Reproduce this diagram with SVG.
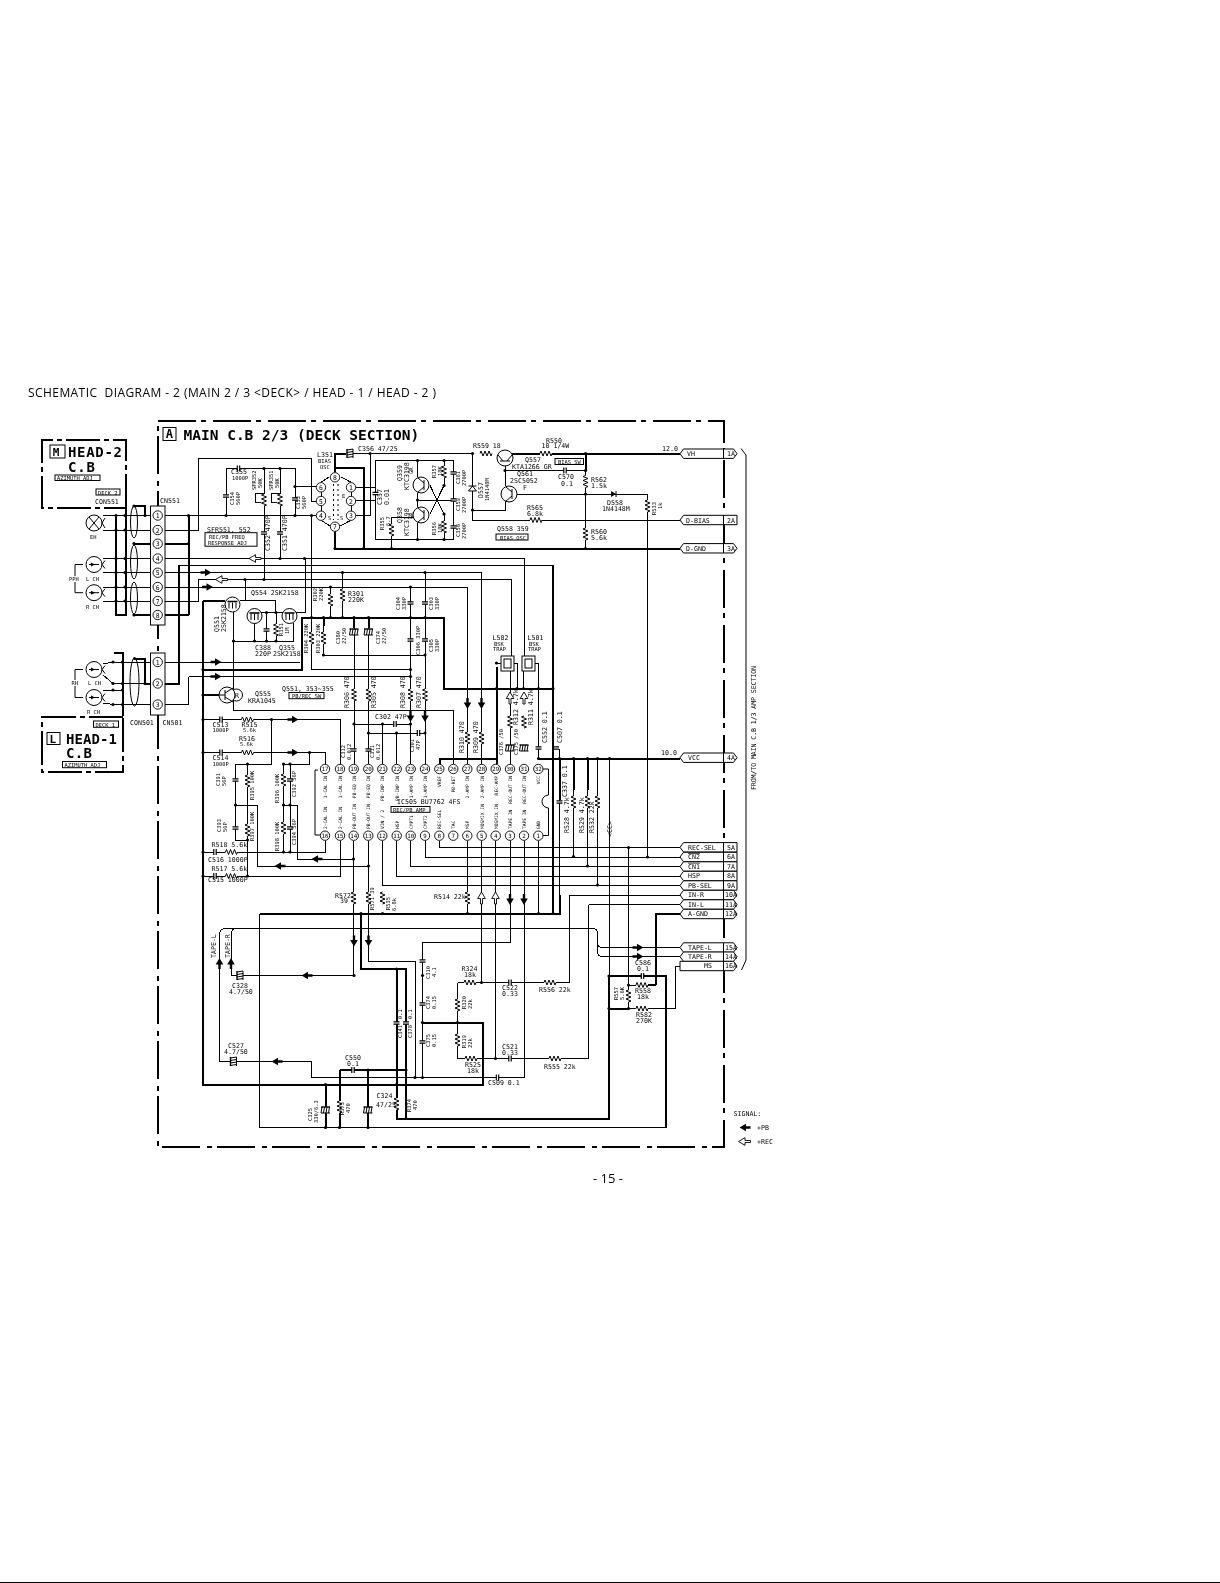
<svg xmlns="http://www.w3.org/2000/svg" width="1220" height="1583" viewBox="0 0 1220 1583">
<style>
text{font-family:"DejaVu Sans Mono","Liberation Mono",monospace;fill:#000}
.t{font-size:6.6px}
.s{font-size:5.4px}
.p{font-size:6.4px;text-anchor:middle}
.h{font-size:14px;font-weight:bold}
.w{fill:none;stroke:#000;stroke-width:1;shape-rendering:crispEdges}
.k{fill:none;stroke:#000;stroke-width:2;shape-rendering:crispEdges}
.f{fill:#fff;stroke:#000;stroke-width:1}
.b{fill:#000;stroke:none}
.l{fill:none;stroke:#000;stroke-width:1}
.o{fill:#fff;stroke:#000;stroke-width:.9}
</style>
<defs>
<g id="zh"><path d="M-6 0H6" stroke="#fff" stroke-width="3.5"/><path class="l" d="M-6 0l1-2.5 2 5 2-5 2 5 2-5 2 5 1-2.5"/></g>
<g id="zv"><path d="M0-6V6" stroke="#fff" stroke-width="3.5"/><path class="l" d="M0-6l-2.5 1 5 2-5 2 5 2-5 2 5 2-2.5 1"/></g>
<g id="ch"><path d="M-1.2 0H1.2" stroke="#fff" stroke-width="4"/><path d="M-1.2-3V3M1.2-3V3" stroke="#000" stroke-width="1.2"/></g>
<g id="cv"><path d="M0-1.2V1.2" stroke="#fff" stroke-width="4"/><path d="M-3-1.2H3M-3 1.2H3" stroke="#000" stroke-width="1.2"/></g>
<g id="pv"><path d="M0-3V3" stroke="#fff" stroke-width="4"/><path d="M-4.5-3H4.5" stroke="#000" stroke-width="1.4"/><path class="l" d="M-4.5 3H4.5M-3.5-3l-1 6M-1-3l-1 6M1.5-3l-1 6M4-3l-1 6"/></g>
<g id="ph"><path d="M-3 0H3" stroke="#fff" stroke-width="4"/><path d="M-3-4.5V4.5" stroke="#000" stroke-width="1.4"/><path class="l" d="M3-4.5V4.5M-3-3.5l6-1M-3-1l6-1M-3 1.5l6-1M-3 4l6-1"/></g>
<circle id="d" r="1.6" class="b"/>
<path id="ar" class="b" d="M-6-1.2H-1.5V-3.8L5 0-1.5 3.8V1.2H-6Z"/>
<path id="al" class="b" d="M6-1.2H1.5V-3.8L-5 0 1.5 3.8V1.2H6Z"/>
<path id="ad" class="b" d="M-1.2-6V-1.5H-3.8L0 5 3.8-1.5H1.2V-6Z"/>
<path id="au" class="b" d="M-1.2 6V1.5H-3.8L0-5 3.8 1.5H1.2V6Z"/>
<path id="ol" class="o" d="M-6 0L.5-3.8V-1H6V1H.5V3.8Z"/>
<path id="ou" class="o" d="M0-6L-3.8 .5H-1V6H1V.5H3.8Z"/>
<circle id="pc" r="4.7" class="o"/>
<g id="qr"><circle r="8" class="f"/><path class="l" d="M3-5V5M3-2L-3-7M3 2L-3 7"/></g>
<g id="qf"><circle r="7.5" class="f"/><path class="l" d="M-3.5-2V4M0-2V4M3.5-2V4"/><path d="M-5-3H5" stroke="#000" stroke-width="1.6"/></g>
<g id="hd"><circle r="8" class="f"/><path class="l" d="M-5 0H5"/><path class="b" d="M-3-2L1 0-3 2Z"/><path class="l" d="M8 0L11-4M8 0L11 4"/></g>
<path id="tr" class="f" d="M0 0L3.5-4.7H53.5L57 0 53.5 4.7H3.5ZM43.5-4.7V4.7"/>
<path id="tl" class="f" d="M0 0L3.5-4.7H57V4.7H3.5ZM43.5-4.7V4.7"/>
<path id="tm" class="f" d="M0-4.7H53.5L57 0 53.5 4.7H0ZM43.5-4.7V4.7"/>
</defs>
<rect width="1220" height="1583" fill="#fff"/>
<g style="opacity:.999">
<text id="title" x="28" y="397" xml:space="preserve" style="font-family:'Open Sans','Noto Sans',sans-serif;font-size:12px" textLength="408">SCHEMATIC  DIAGRAM - 2 (MAIN 2 / 3 &lt;DECK&gt; / HEAD - 1 / HEAD - 2 )</text>
<g id="frame-a">
<path d="M157.5 421H723.5V1146.5H157.5Z" fill="none" stroke="#000" stroke-width="2" stroke-dasharray="38 5 5 7" shape-rendering="crispEdges"/>
<rect x="163" y="427.5" width="13" height="13" class="f"/><text x="165.7" y="438" style="font-size:12px;font-weight:bold">A</text>
<text x="183.5" y="439.5" style="font-size:14.5px;font-weight:bold">MAIN C.B 2/3 (DECK SECTION)</text>
</g>
<g id="head-2">
<path class="k" stroke-dasharray="34 4 5 4" d="M126 508V440H42V508H126"/>
<rect x="50" y="445" width="15" height="13" class="f"/><text x="52.7" y="456" style="font-size:11px;font-weight:bold">M</text>
<text x="68" y="456.5" class="h" textLength="54">HEAD-2</text><text x="68" y="472" class="h" textLength="27">C.B</text>
<rect x="55" y="475" width="45" height="5.5" class="f"/><text x="57" y="480" class="s">AZIMUTH ADJ</text>
<rect x="96" y="489" width="24" height="6" class="f"/><text x="98" y="494.5" class="s">DECK 2</text>
<text x="95" y="504" class="t">CON551</text>
</g>
<g id="head-1">
<path class="k" stroke-dasharray="34 4 5 4" d="M122.5 717H42V771.5H122.5V717"/>
<rect x="93.5" y="721" width="25" height="6.3" class="f"/><text x="95.5" y="726.5" class="s">DECK 1</text>
<rect x="47" y="732.5" width="13" height="12" class="f"/><text x="49.5" y="743" style="font-size:11px;font-weight:bold">L</text>
<text x="66" y="743.5" class="h" textLength="51">HEAD-1</text><text x="66" y="758" class="h" textLength="26">C.B</text>
<rect x="62.5" y="761.5" width="44" height="6.2" class="f"/><text x="64.5" y="767" class="s">AZIMUTH ADJ</text>
<text x="130" y="725" class="t">CON501</text>
<text x="162.5" y="725" class="t">CN501</text>
<text x="160" y="503" class="t">CN551</text>
</g>
<g id="connectors">
<path class="w" d="M103 515.5H150.5M103 530H150.5M103 558.5H150.5M103 572.5H150.5M103 587H150.5M103 601H150.5
M103 664L113 662H150.5M103 675L113 683.5H150.5M103 690H122.5M103 703L113 704.5H150.5
M165 515.5H316M165 530H198V458.5H311.5V501H316M295 486.5H316
M165 558.5H524.5V656M178 565H553M165 572.5H481.5V764M165 587H467.5V764M165 601H198V579.5H511V656M510 668V764M165 662H300M188.5 704.5V676.5M165 704.5H188.5M188.5 676.5H410.5
M226 515.5V468.5H295V515.5M264 468.5V579.5M280 468.5V558.5M255 493H264M255 493V502.5H261M271.5 493H280M271.5 493V502.5H277
M311.5 515.5V617M305 558.5V612.5H261M245 579.5V600.5H240M245 600.5H275.5V612.5M276 612.5V641M266.5 612.5V641M233.5 641H293.5V623M254.5 623V641M233.5 611V710H453.5V764
M330.5 587V617.5M342.5 572.5V617.5
M321.5 482L329 477M341 477L350.5 482M321.5 520.5L330 526M350.5 520.5L340 526M321 492V497M351 492V497M321 506V511M351 506V511
M353 453.5H473M370 453.5V515.5H356M356 487H375.5V500.5H356M375.5 487V460.5H453.5V539.5H375.5V500.5
M417.5 460.5V477M417.5 493V507M417.5 523V539.5M417.5 500H453.5M444 460.5V485.5M444 539.5V514M444 485.5L430 514M444 514L430 485.5M391.5 548.5V517H413
M472.5 453.5V520H680M472.5 510H505V501M505 466V486M505 470.5H585.5M516 494H647.5V857M585.5 453.5V548.5M540 453.5H552
M311.5 617V669.5H410.5M323.5 617V655H425M410.5 587V764M425 572.5V764M354 617V764M368.5 617V764M354 724H410.5M368.5 733H425M382.5 724V764M396.5 733V764
M501 663H496.5M514 663H517V688M522 663H523.5V688M535 663H538.5V688M538.5 688.5V758.5M559.5 758.5V749
M203 719.5H340V764M203 752.5H325V764M203 852H325V840.5M203 876H340V840.5
M235.5 764H271.5V719.5M309.5 752.5V764H283.5M283.5 764V852M290 764V852M235.5 764V840H247.5M247.5 764V876M235.5 805H257V866H368.5M283.5 805H297.5V859H353.5
M353.5 840.5V975.5H231V935Q231 928.5 237 928.5M368.5 840.5V961H415V1077.5M219.5 1061.5V935Q219.5 928.5 226 928.5H593Q597.5 928.5 597.5 934V951Q597.5 956.5 603 956.5H680M597.5 942Q597.5 947.5 603 947.5H680
M439.5 840.5V847.5H680M425 840.5V857H680M410.5 840.5V866.5H680M396.5 840.5V876H680M382.5 840.5V885.5H680M569.5 895H680M569.5 895V982.5M588.5 904.5H680M588.5 904.5V1058.5
M467.5 840.5V914M538.5 840.5V914M481.5 840.5V982.5M495.5 840.5V1058.5M510 840.5V942.5H422.5V1077.5M524 840.5V1077.5H311V1061.5H219.5
M457.5 982.5H569.5M457.5 982.5V1058.5H588.5
M559.5 800V913M573.5 790V856.5M587.5 790V866M597.5 758.5V885M609.5 758V976M628.5 847.5V1008.5H675V966H680
M628.5 985H648M259.5 914V1127.5H665.5"/>
<path class="k" d="M165 543.5H188.5M165 615H188.5M188.5 515V615M134 506H145V515.5M134 543.5H150.5M134 615H150.5M113.5 652.5H122.5V716M116 517V615H126V508M134.5 658.5H145V683.5H150.5M165 683.5H178.5V565
M203 600.5V1084.5H482.5V1022.5H422.5M203 600.5H225M203 669.5H301.5V617.5H443.5V688.5H553M553 565V913M203 695H219
M346 453.5H335V472M335 467.5H363.5V548.5M335 531V548.5H680M512 453.5H540M552 453.5H680M585.5 453.5V470.5
M439.5 764V758.5H496.5M496.5 667V764M538.5 758.5H680M559.5 758.5V800M573.5 758.5V790M587.5 758.5V790
M259.5 913.5H560V895M656 985V914H680M360.5 913.5V969H406V1118.5M396.5 969V1118.5H609V976H665.5V1127.5M325.5 1084.5V1127.5M339.5 1070V1127.5M339.5 1070H406M368 1070V1127.5M609 1008.5H628.5M609 976H656M648 985H656
M354 617V628M368.5 617V628M323.5 617V626"/>
<g id="lenses"><ellipse cx="134" cy="522" rx="3.5" ry="16" class="l"/><ellipse cx="134" cy="562" rx="3.5" ry="17" class="l"/><ellipse cx="134" cy="598" rx="3.5" ry="16" class="l"/><ellipse cx="134.5" cy="682" rx="4.5" ry="24" class="l"/></g>
<g id="dots">
<use href="#d" x="116" y="515.5"/><use href="#d" x="125" y="515.5"/><use href="#d" x="116" y="530"/><use href="#d" x="125" y="530"/><use href="#d" x="116" y="558.5"/><use href="#d" x="125" y="558.5"/><use href="#d" x="116" y="572.5"/><use href="#d" x="125" y="572.5"/><use href="#d" x="116" y="587"/><use href="#d" x="125" y="587"/><use href="#d" x="116" y="601"/><use href="#d" x="125" y="601"/><use href="#d" x="113" y="662"/><use href="#d" x="122.5" y="662"/><use href="#d" x="113" y="683.5"/><use href="#d" x="122.5" y="683.5"/><use href="#d" x="113" y="690"/><use href="#d" x="122.5" y="690"/><use href="#d" x="113" y="704.5"/><use href="#d" x="122.5" y="704.5"/>
<use href="#d" x="145" y="515.5"/><use href="#d" x="134" y="506"/><use href="#d" x="134" y="543.5"/><use href="#d" x="134" y="615"/><use href="#d" x="134.5" y="658.5"/><use href="#d" x="145" y="683.5"/>
<use href="#d" x="188.5" y="515.5"/><use href="#d" x="188.5" y="543.5"/><use href="#d" x="226" y="515.5"/><use href="#d" x="295" y="515.5"/><use href="#d" x="295" y="486.5"/><use href="#d" x="311.5" y="515.5"/><use href="#d" x="264" y="468.5"/><use href="#d" x="280" y="468.5"/><use href="#d" x="280" y="558.5"/><use href="#d" x="304.5" y="558.5"/><use href="#d" x="245" y="579.5"/><use href="#d" x="264" y="579.5"/>
<use href="#d" x="203" y="669.5"/><use href="#d" x="203" y="695"/><use href="#d" x="203" y="719.5"/><use href="#d" x="203" y="752.5"/><use href="#d" x="203" y="852"/><use href="#d" x="203" y="876"/><use href="#d" x="311.5" y="617.5"/><use href="#d" x="323.5" y="617.5"/><use href="#d" x="330.5" y="617.5"/><use href="#d" x="342.5" y="617.5"/><use href="#d" x="354" y="617.5"/><use href="#d" x="368.5" y="617.5"/><use href="#d" x="410.5" y="617.5"/><use href="#d" x="425" y="617.5"/><use href="#d" x="266.5" y="612.5"/><use href="#d" x="276" y="612.5"/><use href="#d" x="233.5" y="641"/><use href="#d" x="254.5" y="641"/><use href="#d" x="266.5" y="641"/><use href="#d" x="276" y="641"/>
<use href="#d" x="330.5" y="587"/><use href="#d" x="342.5" y="572.5"/><use href="#d" x="410.5" y="587"/><use href="#d" x="425" y="572.5"/><use href="#d" x="410.5" y="669.5"/><use href="#d" x="323.5" y="655"/><use href="#d" x="425" y="655"/><use href="#d" x="410.5" y="676.5"/>
<use href="#d" x="370" y="453.5"/><use href="#d" x="363.5" y="548.5"/><use href="#d" x="391.5" y="548.5"/><use href="#d" x="417.5" y="460.5"/><use href="#d" x="417.5" y="539.5"/><use href="#d" x="417.5" y="500"/><use href="#d" x="444" y="460.5"/><use href="#d" x="444" y="539.5"/><use href="#d" x="444" y="485.5"/><use href="#d" x="444" y="514"/>
<use href="#d" x="472.5" y="453.5"/><use href="#d" x="472.5" y="510"/><use href="#d" x="585.5" y="453.5"/><use href="#d" x="585.5" y="470.5"/><use href="#d" x="505" y="470.5"/><use href="#d" x="585.5" y="494"/><use href="#d" x="585.5" y="548.5"/><use href="#d" x="335" y="548.5"/>
<use href="#d" x="496.5" y="688.5"/><use href="#d" x="517" y="688.5"/><use href="#d" x="523.5" y="688.5"/><use href="#d" x="538.5" y="688.5"/><use href="#d" x="553" y="688.5"/><use href="#d" x="496.5" y="663"/>
<use href="#d" x="354" y="724"/><use href="#d" x="382.5" y="724"/><use href="#d" x="410.5" y="724"/><use href="#d" x="368.5" y="733"/><use href="#d" x="396.5" y="733"/><use href="#d" x="425" y="733"/>
<use href="#d" x="271.5" y="719.5"/><use href="#d" x="309.5" y="752.5"/><use href="#d" x="247.5" y="764"/><use href="#d" x="235.5" y="805"/><use href="#d" x="247.5" y="840"/><use href="#d" x="283.5" y="764"/><use href="#d" x="290" y="764"/><use href="#d" x="283.5" y="805"/><use href="#d" x="290" y="805"/><use href="#d" x="283.5" y="852"/><use href="#d" x="290" y="852"/><use href="#d" x="247.5" y="876"/><use href="#d" x="353.5" y="859"/><use href="#d" x="368.5" y="866"/>
<use href="#d" x="538.5" y="758.5"/><use href="#d" x="559.5" y="758.5"/><use href="#d" x="573.5" y="758.5"/><use href="#d" x="587.5" y="758.5"/><use href="#d" x="597.5" y="758.5"/><use href="#d" x="609.5" y="758.5"/><use href="#d" x="573.5" y="856.5"/><use href="#d" x="587.5" y="866"/><use href="#d" x="597.5" y="885"/><use href="#d" x="628.5" y="847.5"/><use href="#d" x="647.5" y="857"/>
<use href="#d" x="361" y="913.5"/><use href="#d" x="382.5" y="913.5"/><use href="#d" x="467.5" y="913.5"/><use href="#d" x="538.5" y="913.5"/><use href="#d" x="553" y="913.5"/>
<use href="#d" x="354" y="975.5"/><use href="#d" x="422.5" y="975.5"/><use href="#d" x="422.5" y="1022.5"/><use href="#d" x="457.5" y="1022.5"/><use href="#d" x="422.5" y="1077.5"/><use href="#d" x="415" y="1077.5"/><use href="#d" x="396.5" y="969"/><use href="#d" x="406" y="1070"/><use href="#d" x="368" y="1070"/><use href="#d" x="396.5" y="1084.5"/><use href="#d" x="325.5" y="1084.5"/><use href="#d" x="325.5" y="1127.5"/><use href="#d" x="339.5" y="1127.5"/><use href="#d" x="368" y="1127.5"/><use href="#d" x="406" y="1118.5"/>
<use href="#d" x="481.5" y="982.5"/><use href="#d" x="495.5" y="1058.5"/><use href="#d" x="609" y="976"/><use href="#d" x="609" y="1008.5"/><use href="#d" x="656" y="976"/><use href="#d" x="628.5" y="985"/><use href="#d" x="628.5" y="1008.5"/>
</g>
<g id="arrows">
<use href="#ar" x="206.5" y="572.5"/><use href="#ar" x="208" y="587"/><use href="#ol" x="255" y="558.5"/><use href="#ol" x="221.5" y="579.5"/><use href="#ar" x="216.5" y="662"/><use href="#ar" x="216.5" y="676.5"/><use href="#ar" x="293.5" y="719.5"/><use href="#ar" x="293.5" y="752.5"/><use href="#al" x="316.5" y="859"/><use href="#al" x="279.5" y="866"/>
<use href="#ad" x="410.5" y="717"/><use href="#ad" x="425" y="717"/><use href="#ad" x="467.5" y="704"/><use href="#ad" x="481.5" y="704"/><use href="#ou" x="510" y="698"/><use href="#ou" x="524" y="698"/><use href="#ou" x="481.5" y="898"/><use href="#ou" x="495.5" y="898"/><use href="#ad" x="510" y="900"/><use href="#ad" x="524" y="900"/><use href="#ad" x="354" y="941.5"/><use href="#ad" x="368.5" y="941.5"/><use href="#al" x="306.5" y="975.5"/><use href="#au" x="231" y="963"/><use href="#au" x="219.5" y="963"/><use href="#al" x="276.5" y="1061.5"/><use href="#ar" x="638.5" y="947.5"/><use href="#ar" x="638.5" y="956.5"/>
</g>
</g>
<g id="passives">
<use href="#zv" x="264" y="500"/><use href="#zv" x="280" y="500"/><use href="#zh" x="486" y="453.5"/><use href="#zh" x="546" y="453.5"/><use href="#zv" x="444" y="472"/><use href="#zv" x="444" y="527"/><use href="#zv" x="391.5" y="530"/><use href="#zv" x="585.5" y="481.5"/><use href="#zv" x="585.5" y="534"/><use href="#zh" x="536" y="520"/><use href="#zv" x="647.5" y="506"/>
<use href="#zv" x="330.5" y="600"/><use href="#zv" x="342.5" y="595"/><use href="#zv" x="311.5" y="638"/><use href="#zv" x="323.5" y="638"/><use href="#zv" x="276" y="630"/><use href="#zv" x="354" y="695"/><use href="#zv" x="368.5" y="695"/><use href="#zv" x="410.5" y="695"/><use href="#zv" x="425" y="695"/><use href="#zv" x="467.5" y="738"/><use href="#zv" x="481.5" y="738"/><use href="#zv" x="510" y="722"/><use href="#zv" x="524" y="722"/>
<use href="#zh" x="247.5" y="719.5"/><use href="#zh" x="247.5" y="752.5"/><use href="#zh" x="231.5" y="852"/><use href="#zh" x="231.5" y="876"/><use href="#zv" x="247.5" y="781"/><use href="#zv" x="247.5" y="830"/><use href="#zv" x="283.5" y="780"/><use href="#zv" x="283.5" y="828"/>
<use href="#zv" x="353.5" y="898"/><use href="#zv" x="368.5" y="898"/><use href="#zv" x="382.5" y="898"/><use href="#zv" x="467.5" y="898"/><use href="#zv" x="573.5" y="802"/><use href="#zv" x="587.5" y="802"/><use href="#zv" x="597.5" y="802"/>
<use href="#zh" x="470" y="982.5"/><use href="#zv" x="457.5" y="1005"/><use href="#zv" x="457.5" y="1040"/><use href="#zh" x="471" y="1058.5"/><use href="#zh" x="550" y="982.5"/><use href="#zh" x="555" y="1058.5"/><use href="#zv" x="339.5" y="1107"/><use href="#zv" x="396.5" y="1104"/><use href="#zv" x="628.5" y="996"/><use href="#zh" x="642" y="985"/><use href="#zh" x="642" y="1008.5"/>
<use href="#ch" x="238.5" y="468.5"/><use href="#cv" x="226" y="496"/><use href="#cv" x="264" y="533"/><use href="#cv" x="280" y="533"/><use href="#cv" x="295" y="499"/><use href="#cv" x="375.5" y="493.5"/><use href="#cv" x="453.5" y="473"/><use href="#cv" x="453.5" y="500"/><use href="#cv" x="453.5" y="527"/><use href="#ch" x="565" y="470.5"/>
<use href="#ph" x="350" y="453.5"/><use href="#cv" x="266.5" y="630"/><use href="#cv" x="410.5" y="603"/><use href="#cv" x="425" y="603"/><use href="#cv" x="410.5" y="640"/><use href="#cv" x="425" y="640"/><use href="#pv" x="354" y="632"/><use href="#pv" x="368.5" y="632"/><use href="#ch" x="395" y="724"/><use href="#ch" x="418.5" y="733"/><use href="#cv" x="353.5" y="750"/><use href="#cv" x="368.5" y="750"/>
<use href="#pv" x="510" y="748"/><use href="#pv" x="524" y="748"/><use href="#cv" x="538.5" y="748"/><use href="#cv" x="556" y="748"/><use href="#cv" x="559.5" y="802"/>
<use href="#ch" x="221" y="719.5"/><use href="#ch" x="221" y="752.5"/><use href="#ch" x="215" y="852"/><use href="#ch" x="215" y="876"/><use href="#cv" x="235.5" y="780"/><use href="#cv" x="235.5" y="828"/><use href="#cv" x="290" y="780"/><use href="#cv" x="290" y="828"/>
<use href="#ph" x="240" y="975.5"/><use href="#ph" x="233.5" y="1061.5"/><use href="#ch" x="353" y="1070"/><use href="#pv" x="325.5" y="1110"/><use href="#pv" x="368" y="1110"/><use href="#cv" x="396.5" y="1023"/><use href="#cv" x="406" y="1023"/><use href="#cv" x="422.5" y="961"/><use href="#cv" x="422.5" y="1004"/><use href="#cv" x="422.5" y="1042"/>
<use href="#ch" x="497.5" y="1077.5"/><use href="#ch" x="510" y="982.5"/><use href="#ch" x="510" y="1058.5"/><use href="#ch" x="642.5" y="976"/>
<path class="b" d="M611 491V497L616 494Z"/><path class="l" d="M616 491V497"/>
<path class="f" d="M472.5 486L468.5 491H476.5Z"/><path class="l" d="M468.5 486H476.5"/>
</g>
<g id="cn551"><rect x="150.5" y="506" width="14.5" height="119" class="f" stroke-width="1.5"/>
<use href="#pc" x="157.7" y="515.5"/><use href="#pc" x="157.7" y="530"/><use href="#pc" x="157.7" y="543.7"/><use href="#pc" x="157.7" y="558.5"/><use href="#pc" x="157.7" y="572.7"/><use href="#pc" x="157.7" y="587"/><use href="#pc" x="157.7" y="601"/><use href="#pc" x="157.7" y="615"/>
<text class="p" x="157.7" y="518">1</text><text class="p" x="157.7" y="532.5">2</text><text class="p" x="157.7" y="546.2">3</text><text class="p" x="157.7" y="561">4</text><text class="p" x="157.7" y="575.2">5</text><text class="p" x="157.7" y="589.5">6</text><text class="p" x="157.7" y="603.5">7</text><text class="p" x="157.7" y="617.5">8</text></g>
<g id="cn501"><rect x="150.5" y="653" width="14.5" height="62" class="f" stroke-width="1.5"/><use href="#pc" x="157.7" y="662"/><use href="#pc" x="157.7" y="683.5"/><use href="#pc" x="157.7" y="704.5"/><text class="p" x="157.7" y="664.5">1</text><text class="p" x="157.7" y="686">2</text><text class="p" x="157.7" y="707">3</text></g>
<g id="heads">
<use href="#hd" x="94" y="564.5"/><use href="#hd" x="94" y="592.7"/><use href="#hd" x="94" y="669.5"/><use href="#hd" x="94" y="697.5"/>
<circle cx="94" cy="523" r="8" class="f"/><path class="l" d="M89 517L99 529M99 517L89 529M102 523L105 518M102 523L105 528"/>
<path class="l" d="M83 564.5H75V576M75 582V592.7H83M83 669.5H75V680M75 686V697.5H83"/>
<text class="s" x="90" y="539">EH</text><text class="s" x="69" y="581">PPH</text><text class="s" x="86" y="581">L CH</text><text class="s" x="86" y="609">R CH</text><text class="s" x="71.5" y="685">RH</text><text class="s" x="88" y="685">L CH</text><text class="s" x="87" y="713.5">R CH</text>
</g>
<g id="l351">
<use href="#pc" x="335" y="477.3"/><use href="#pc" x="321" y="487.3"/><use href="#pc" x="321" y="501"/><use href="#pc" x="321" y="515.7"/><use href="#pc" x="335" y="526.7"/><use href="#pc" x="351" y="487.3"/><use href="#pc" x="351" y="501"/><use href="#pc" x="351" y="515.7"/>
<text class="p" x="335" y="479.8">8</text><text class="p" x="321" y="489.8">6</text><text class="p" x="321" y="503.5">5</text><text class="p" x="321" y="518.2">4</text><text class="p" x="335" y="529.2">7</text><text class="p" x="351" y="489.8">1</text><text class="p" x="351" y="503.5">2</text><text class="p" x="351" y="518.2">3</text>
<path class="l" stroke-dasharray="2 3" d="M333.5 484V520M338 484V520"/>
<text class="s" x="328" y="520">S</text><text class="s" x="340" y="520">S</text><text class="s" x="342" y="498">E</text>
<text class="t" x="317" y="457">L351</text><text class="s" x="318" y="463">BIAS</text><text class="s" x="320" y="468.5">OSC</text>
</g>
<g id="transistors">
<use href="#qr" x="421" y="485"/><use href="#qr" x="421" y="515"/><use href="#qr" x="505" y="458" transform="rotate(90 505 458)"/><use href="#qr" x="509" y="494"/>
<use href="#qf" x="232.5" y="604.5"/><use href="#qf" x="254.5" y="616"/><use href="#qf" x="289.5" y="616"/>
<g id="q555"><circle cx="236.5" cy="695" r="6" class="f"/><circle cx="227" cy="695" r="8" class="f"/><path class="l" d="M225 690V700M225 693L233 688M225 697L233 702M219 695H225"/><text class="t" x="235" y="697.5">R</text></g>
</g>
<g id="ic505">
<path class="l" d="M318 770H315V835H320M542.5 769H548.5V795A6.5 6.5 0 0 0 548.5 808V835.5H542.5"/>
<g id="ic-pins">
<use href="#pc" x="325" y="769"/><use href="#pc" x="340" y="769"/><use href="#pc" x="353.7" y="769"/><use href="#pc" x="368.3" y="769"/><use href="#pc" x="382.3" y="769"/><use href="#pc" x="396.7" y="769"/><use href="#pc" x="410.7" y="769"/><use href="#pc" x="425" y="769"/><use href="#pc" x="439.3" y="769"/><use href="#pc" x="453.3" y="769"/><use href="#pc" x="467.3" y="769"/><use href="#pc" x="481.7" y="769"/><use href="#pc" x="495.7" y="769"/><use href="#pc" x="510" y="769"/><use href="#pc" x="524" y="769"/><use href="#pc" x="538.3" y="769"/>
<use href="#pc" x="325" y="835.7"/><use href="#pc" x="340" y="835.7"/><use href="#pc" x="353.7" y="835.7"/><use href="#pc" x="368.3" y="835.7"/><use href="#pc" x="382.3" y="835.7"/><use href="#pc" x="396.7" y="835.7"/><use href="#pc" x="410.7" y="835.7"/><use href="#pc" x="425" y="835.7"/><use href="#pc" x="439.3" y="835.7"/><use href="#pc" x="453.3" y="835.7"/><use href="#pc" x="467.3" y="835.7"/><use href="#pc" x="481.7" y="835.7"/><use href="#pc" x="495.7" y="835.7"/><use href="#pc" x="510" y="835.7"/><use href="#pc" x="524" y="835.7"/><use href="#pc" x="538.3" y="835.7"/>
</g>
<g style="font-size:5.8px;text-anchor:middle">
<text x="325" y="771.2">17</text><text x="340" y="771.2">18</text><text x="353.7" y="771.2">19</text><text x="368.3" y="771.2">20</text><text x="382.3" y="771.2">21</text><text x="396.7" y="771.2">22</text><text x="410.7" y="771.2">23</text><text x="425" y="771.2">24</text><text x="439.3" y="771.2">25</text><text x="453.3" y="771.2">26</text><text x="467.3" y="771.2">27</text><text x="481.7" y="771.2">28</text><text x="495.7" y="771.2">29</text><text x="510" y="771.2">30</text><text x="524" y="771.2">31</text><text x="538.3" y="771.2">32</text>
<text x="325" y="838">16</text><text x="340" y="838">15</text><text x="353.7" y="838">14</text><text x="368.3" y="838">13</text><text x="382.3" y="838">12</text><text x="396.7" y="838">11</text><text x="410.7" y="838">10</text><text x="425" y="838">9</text><text x="439.3" y="838">8</text><text x="453.3" y="838">7</text><text x="467.3" y="838">6</text><text x="481.7" y="838">5</text><text x="495.7" y="838">4</text><text x="510" y="838">3</text><text x="524" y="838">2</text><text x="538.3" y="838">1</text>
</g>
<g style="font-size:4.6px;text-anchor:end">
<text transform="translate(327 776) rotate(-90)">1-CAL IN</text><text transform="translate(341.5 776) rotate(-90)">1-CAL IN</text><text transform="translate(355.5 776) rotate(-90)">PB-EQ IN</text><text transform="translate(370 776) rotate(-90)">PB-EQ IN</text><text transform="translate(384 776) rotate(-90)">PB-INP IN</text><text transform="translate(398.5 776) rotate(-90)">PB-INP IN</text><text transform="translate(412.5 776) rotate(-90)">1-AMP IN</text><text transform="translate(426.5 776) rotate(-90)">1-AMP IN</text><text transform="translate(441 776) rotate(-90)">VREF</text><text transform="translate(455 776) rotate(-90)">PB-RET</text><text transform="translate(469 776) rotate(-90)">2-AMP IN</text><text transform="translate(483.5 776) rotate(-90)">2-AMP IN</text><text transform="translate(497.5 776) rotate(-90)">REC-AMP</text><text transform="translate(512 776) rotate(-90)">REC-OUT IN</text><text transform="translate(526 776) rotate(-90)">REC-OUT IN</text><text transform="translate(540 776) rotate(-90)">VCC</text>
</g>
<g style="font-size:4.6px">
<text transform="translate(327 829) rotate(-90)">2-CAL IN</text><text transform="translate(341.5 829) rotate(-90)">2-CAL IN</text><text transform="translate(355.5 829) rotate(-90)">PB-OUT IN</text><text transform="translate(370 829) rotate(-90)">PB-OUT IN</text><text transform="translate(384 829) rotate(-90)">VIN / 2</text><text transform="translate(398.5 829) rotate(-90)">HSP</text><text transform="translate(412.5 829) rotate(-90)">CMPT1</text><text transform="translate(426.5 829) rotate(-90)">CMPT2</text><text transform="translate(441 829) rotate(-90)">REC-SEL</text><text transform="translate(455 829) rotate(-90)">TAC</text><text transform="translate(469 829) rotate(-90)">MSP</text><text transform="translate(483.5 829) rotate(-90)">MOSMIX IN</text><text transform="translate(497.5 829) rotate(-90)">MOSMIX IN</text><text transform="translate(512 829) rotate(-90)">TAPE IN</text><text transform="translate(526 829) rotate(-90)">TAPE IN</text><text transform="translate(540 829) rotate(-90)">GND</text>
</g>
<text class="t" x="397" y="804">IC505 BU7762 4FS</text><rect x="391" y="806.5" width="39" height="5.8" class="f"/><text class="s" x="393" y="811.8">REC/PB AMP</text>
</g>
<g id="traps">
<rect x="501" y="656" width="13" height="15" class="f"/><rect x="504" y="659" width="7" height="9" class="f"/><rect x="522" y="656" width="13" height="15" class="f"/><rect x="525" y="659" width="7" height="9" class="f"/>
<text class="t" x="492.5" y="640">L502</text><text class="s" x="494" y="645.5">BSK</text><text class="s" x="493" y="651">TRAP</text><text class="t" x="527.5" y="640">L501</text><text class="s" x="529" y="645.5">BSK</text><text class="s" x="528" y="651">TRAP</text>
</g>
<g id="tags">
<use href="#tr" x="680" y="453.7"/><use href="#tl" x="680" y="520"/><use href="#tr" x="680" y="548.3"/><use href="#tr" x="680" y="757.7"/><use href="#tl" x="680" y="847.3"/><use href="#tl" x="680" y="857"/><use href="#tl" x="680" y="866.5"/><use href="#tl" x="680" y="876"/><use href="#tl" x="680" y="885.5"/><use href="#tr" x="680" y="895"/><use href="#tr" x="680" y="904.5"/><use href="#tr" x="680" y="914"/><use href="#tr" x="680" y="947.5"/><use href="#tr" x="680" y="956.7"/><use href="#tm" x="680" y="966"/>
<text class="t" x="687" y="456">VH</text><text class="t" x="727" y="456">1A</text><text class="t" x="686" y="522.5">D-BIAS</text><text class="t" x="727" y="522.5">2A</text><text class="t" x="686" y="550.5">D-GND</text><text class="t" x="727" y="550.5">3A</text><text class="t" x="688" y="760">VCC</text><text class="t" x="727" y="760">4A</text>
<text class="t" x="688" y="849.7">REC-SEL</text><text class="t" x="727" y="849.7">5A</text><text class="t" x="688" y="859.3" text-decoration="overline">CN2</text><text class="t" x="727" y="859.3">6A</text><text class="t" x="688" y="868.8" text-decoration="overline">CN1</text><text class="t" x="727" y="868.8">7A</text><text class="t" x="688" y="878.3">HSP</text><text class="t" x="727" y="878.3">8A</text><text class="t" x="688" y="887.8">PB-SEL</text><text class="t" x="727" y="887.8">9A</text><text class="t" x="688" y="897.3">IN-R</text><text class="t" x="725" y="897.3">10A</text><text class="t" x="688" y="906.8">IN-L</text><text class="t" x="725" y="906.8">11A</text><text class="t" x="688" y="916.3">A-GND</text><text class="t" x="725" y="916.3">12A</text><text class="t" x="688" y="949.8">TAPE-L</text><text class="t" x="725" y="949.8">15A</text><text class="t" x="688" y="959">TAPE-R</text><text class="t" x="725" y="959">14A</text><text class="t" x="704" y="968.3">MS</text><text class="t" x="725" y="968.3">16A</text>
<path class="l" d="M741 448.5L746 455V960L741.5 970"/>
<text class="t" transform="translate(756 790) rotate(-90)" textLength="124">FROM/TO MAIN C.B 1/3 AMP SECTION</text>
<text class="t" x="662" y="450.5">12.0</text><text class="t" x="661" y="755">10.0</text>
</g>
<g id="labels">
<text class="t" x="207" y="532">SFR551, 552</text>
<rect x="205" y="532.7" width="52" height="13.5" class="f"/><text class="s" x="209" y="539">REC/PB FREQ</text><text class="s" x="208" y="545">RESPONSE ADJ</text>
<text class="t" x="231" y="474">C355</text><text class="s" x="232" y="479.5">1000P</text>
<text class="s" transform="translate(234 505) rotate(-90)">C354</text><text class="s" transform="translate(240 505) rotate(-90)">560P</text>
<text class="s" transform="translate(256 490) rotate(-90)">SFR352</text><text class="s" transform="translate(262 488) rotate(-90)">50K</text>
<text class="s" transform="translate(273 490) rotate(-90)">SFR351</text><text class="s" transform="translate(279 488) rotate(-90)">50K</text>
<text class="s" transform="translate(300 509) rotate(-90)">C353</text><text class="s" transform="translate(306 509) rotate(-90)">560P</text>
<text class="t" transform="translate(270 551) rotate(-90)">C352 470P</text><text class="t" transform="translate(287 551) rotate(-90)">C351 470P</text>
<text class="t" x="358" y="451">C356 47/25</text>
<text class="t" transform="translate(382 505) rotate(-90)">C357</text><text class="t" transform="translate(389 505) rotate(-90)">0.01</text>
<text class="t" transform="translate(402 481) rotate(-90)">Q359</text><text class="t" transform="translate(409 490) rotate(-90)">KTC3198</text><text class="s" transform="translate(413 474) rotate(-90)">GR</text>
<text class="t" transform="translate(402 523) rotate(-90)">Q358</text><text class="t" transform="translate(409 536) rotate(-90)">KTC3198</text><text class="s" transform="translate(413 519) rotate(-90)">GR</text>
<text class="s" transform="translate(384 530) rotate(-90)">R355</text><text class="s" transform="translate(390 526) rotate(-90)">6.7</text>
<text class="s" transform="translate(436 478) rotate(-90)">R357</text><text class="s" transform="translate(442 476) rotate(-90)">18K</text>
<text class="s" transform="translate(436 535) rotate(-90)">R356</text><text class="s" transform="translate(442 533) rotate(-90)">18K</text>
<text class="s" transform="translate(460 484) rotate(-90)">C361</text><text class="s" transform="translate(466 486) rotate(-90)">2700P</text>
<text class="s" transform="translate(460 511) rotate(-90)">C359</text><text class="s" transform="translate(466 513) rotate(-90)">2700P</text>
<text class="s" transform="translate(460 537) rotate(-90)">C358</text><text class="s" transform="translate(466 539) rotate(-90)">2700P</text>
<text class="t" x="473" y="448">R559 18</text><text class="t" x="546" y="442.5">R550</text><text class="t" x="541.5" y="448">10 1/4W</text>
<rect x="555" y="458.5" width="28.5" height="6" class="f"/><text class="s" x="558" y="463.8">BIAS SW</text>
<text class="t" x="525" y="461.5">Q557</text><text class="t" x="512" y="468.5">KTA1266 GR</text><text class="t" x="517" y="476">Q561</text><text class="t" x="510" y="483">2SC5052</text><text class="t" x="523" y="489.5">F</text>
<text class="t" x="558" y="479">C570</text><text class="t" x="561" y="485.5">0.1</text>
<text class="t" x="591" y="482">R562</text><text class="t" x="591" y="488">1.5k</text><text class="t" x="591" y="534">R560</text><text class="t" x="591" y="540">5.6k</text>
<text class="t" x="527" y="510">R565</text><text class="t" x="527" y="516">6.8k</text>
<text class="t" x="497" y="530.5">Q558 359</text><rect x="496" y="534" width="32" height="6" class="f"/><text class="s" x="500" y="539.5">BIAS OSC</text>
<text class="t" transform="translate(483 498) rotate(-90)">D557</text><text class="s" transform="translate(489 501) rotate(-90)">1N4148M</text>
<text class="t" x="607" y="505">D558</text><text class="t" x="602" y="511">1N4148M</text>
<text class="s" transform="translate(656 515) rotate(-90)">R533</text><text class="s" transform="translate(662 509) rotate(-90)">1k</text>
<text class="t" x="251" y="595">Q554 2SK2158</text>
<text class="t" transform="translate(219 632) rotate(-90)">Q551</text><text class="t" transform="translate(226 632) rotate(-90)">2SK2158</text>
<text class="t" x="255" y="650">C388</text><text class="t" x="255" y="656">220P</text><text class="t" x="279" y="650">Q355</text><text class="t" x="273" y="656">2SK2158</text>
<text class="s" transform="translate(283 636) rotate(-90)">R351</text><text class="s" transform="translate(289 634) rotate(-90)">1M</text>
<text class="t" x="255" y="695.5">Q555</text><text class="t" x="248" y="703">KRA1045</text>
<text class="t" x="282" y="690.5">Q551, 353~355</text><rect x="289" y="692.5" width="35" height="6.2" class="f"/><text class="s" x="292" y="698">PB/REC SW</text>
<text class="s" transform="translate(317 601) rotate(-90)">R302</text><text class="s" transform="translate(323 601) rotate(-90)">220K</text><text class="t" x="348" y="596">R301</text><text class="t" x="348" y="602">220K</text>
<text class="s" transform="translate(307.5 653) rotate(-90)">R304 220K</text><text class="s" transform="translate(320 653) rotate(-90)">R303 220K</text>
<text class="s" transform="translate(340 644) rotate(-90)">C380</text><text class="s" transform="translate(346 644) rotate(-90)">22/50</text><text class="s" transform="translate(380 644) rotate(-90)">C374</text><text class="s" transform="translate(386 644) rotate(-90)">22/50</text>
<text class="s" transform="translate(400 610) rotate(-90)">C304</text><text class="s" transform="translate(406 610) rotate(-90)">330P</text><text class="s" transform="translate(433 610) rotate(-90)">C303</text><text class="s" transform="translate(439 610) rotate(-90)">330P</text>
<text class="s" transform="translate(420 655) rotate(-90)">C306 330P</text><text class="s" transform="translate(433 652) rotate(-90)">C305</text><text class="s" transform="translate(439 652) rotate(-90)">330P</text>
<text class="t" transform="translate(349 708) rotate(-90)">R306 470</text><text class="t" transform="translate(376 708) rotate(-90)">R305 470</text><text class="t" transform="translate(405 708) rotate(-90)">R308 470</text><text class="t" transform="translate(421 708) rotate(-90)">R307 470</text>
<text class="t" x="375" y="718.5">C302 47P</text><text class="s" transform="translate(414 752) rotate(-90)">C301</text><text class="s" transform="translate(420 750) rotate(-90)">47P</text>
<text class="s" transform="translate(345 758) rotate(-90)">C312</text><text class="s" transform="translate(351 760) rotate(-90)">0.012</text><text class="s" transform="translate(374 758) rotate(-90)">C311</text><text class="s" transform="translate(380 760) rotate(-90)">0.012</text>
<text class="t" transform="translate(464 753) rotate(-90)">R310 470</text><text class="t" transform="translate(478 753) rotate(-90)">R309 470</text><text class="t" transform="translate(518 725) rotate(-90)">R312 4.7k</text><text class="t" transform="translate(533 725) rotate(-90)">R311 4.7k</text>
<text class="s" transform="translate(503 755) rotate(-90)">C376 /50</text><text class="s" transform="translate(518 755) rotate(-90)">C375 /50</text>
<text class="t" transform="translate(547 743) rotate(-90)">C552 0.1</text><text class="t" transform="translate(562 743) rotate(-90)">C507 0.1</text><text class="t" transform="translate(567 797) rotate(-90)">C337 0.1</text>
<text class="t" transform="translate(569 833) rotate(-90)">R528 4.7k</text><text class="t" transform="translate(583.5 833) rotate(-90)">R529 4.7k</text><text class="t" transform="translate(594 833) rotate(-90)">R532 22k</text>
<text class="t" transform="translate(611.5 837) rotate(-90)">&lt;CC&gt;</text>
<text class="t" x="212.5" y="727">C513</text><text class="s" x="212.5" y="732">1000P</text><text class="t" x="241.5" y="727">R515</text><text class="s" x="243" y="732">5.6k</text><text class="t" x="239" y="741">R516</text><text class="s" x="240" y="746">5.6k</text><text class="t" x="212.5" y="760">C514</text><text class="s" x="212.5" y="765.5">1000P</text>
<text class="s" transform="translate(220 786) rotate(-90)">C391</text><text class="s" transform="translate(226 786) rotate(-90)">56P</text><text class="s" transform="translate(254 800) rotate(-90)">R395 100K</text>
<text class="s" transform="translate(221 832) rotate(-90)">C393</text><text class="s" transform="translate(227 832) rotate(-90)">56P</text><text class="s" transform="translate(254 841) rotate(-90)">R397 100K</text>
<text class="s" transform="translate(279 803) rotate(-90)">R396 100K</text><text class="s" transform="translate(296 797) rotate(-90)">C392 56P</text><text class="s" transform="translate(279 851) rotate(-90)">R398 100K</text><text class="s" transform="translate(296 845) rotate(-90)">C394 56P</text>
<text class="t" x="211.5" y="847">R518 5.6k</text><text class="t" x="208" y="861.5">C516 1000P</text><text class="t" x="211.5" y="871">R517 5.6k</text><text class="t" x="208" y="882">C515 1000P</text>
<text class="t" x="335" y="898">R572</text><text class="t" x="340" y="903">39</text><text class="s" transform="translate(374 910) rotate(-90)">R571 39</text><text class="s" transform="translate(390 910) rotate(-90)">R535</text><text class="s" transform="translate(396 911) rotate(-90)">6.8k</text><text class="t" x="434" y="898.5">R514 22k</text>
<text class="t" transform="translate(216 958) rotate(-90)">TAPE-L</text><text class="t" transform="translate(230 958) rotate(-90)">TAPE-R</text>
<text class="t" x="232" y="987.5">C328</text><text class="t" x="229" y="994">4.7/50</text><text class="t" x="228" y="1048">C527</text><text class="t" x="224" y="1054">4.7/50</text><text class="t" x="345" y="1059.5">C550</text><text class="t" x="347" y="1065.5">0.1</text>
<text class="s" transform="translate(312 1121) rotate(-90)">C325</text><text class="s" transform="translate(318 1123) rotate(-90)">330/6.3</text><text class="s" transform="translate(344 1115) rotate(-90)">R373</text><text class="s" transform="translate(350 1113) rotate(-90)">470</text>
<text class="t" x="376.5" y="1098">C324</text><text class="t" x="376" y="1106.5">47/25</text><text class="s" transform="translate(411 1112) rotate(-90)">R374</text><text class="s" transform="translate(417 1110) rotate(-90)">470</text>
<text class="s" transform="translate(402 1038) rotate(-90)">C341</text><text class="s" transform="translate(402 1019) rotate(-90)">0.1</text><text class="s" transform="translate(412 1038) rotate(-90)">C378</text><text class="s" transform="translate(412 1019) rotate(-90)">0.1</text>
<text class="s" transform="translate(430 979) rotate(-90)">C310</text><text class="s" transform="translate(436 977) rotate(-90)">4.1</text><text class="s" transform="translate(430 1009) rotate(-90)">C374</text><text class="s" transform="translate(436 1009) rotate(-90)">0.15</text><text class="s" transform="translate(430 1047) rotate(-90)">C375</text><text class="s" transform="translate(436 1047) rotate(-90)">0.15</text>
<text class="t" x="461.5" y="971">R324</text><text class="t" x="464" y="977">18k</text><text class="s" transform="translate(466 1009) rotate(-90)">R320</text><text class="s" transform="translate(472 1009) rotate(-90)">22k</text><text class="s" transform="translate(466 1048) rotate(-90)">R319</text><text class="s" transform="translate(472 1048) rotate(-90)">22k</text>
<text class="t" x="465" y="1067">R525</text><text class="t" x="467" y="1073">18k</text>
<text class="t" x="488" y="1084.5">C509 0.1</text><text class="t" x="502" y="989.5">C522</text><text class="t" x="502" y="995.5">0.33</text><text class="t" x="539" y="992">R556 22k</text><text class="t" x="502" y="1048.5">C521</text><text class="t" x="502" y="1054.5">0.33</text><text class="t" x="544" y="1068.5">R555 22k</text>
<text class="t" x="635" y="965">C586</text><text class="t" x="637" y="971">0.1</text><text class="t" x="635" y="993">R558</text><text class="t" x="637" y="998.5">18k</text><text class="s" transform="translate(618 1000) rotate(-90)">R557</text><text class="s" transform="translate(624 1000) rotate(-90)">5.6K</text><text class="t" x="636" y="1017">R582</text><text class="t" x="636" y="1023">270K</text>
</g>
<g id="legend">
<text class="t" x="733.5" y="1116">SIGNAL:</text>
<use href="#al" x="744.5" y="1127.5"/><text class="t" x="757" y="1130">+PB</text>
<use href="#ol" x="744.5" y="1141.5"/><text class="t" x="757" y="1144">+REC</text>
</g>
<text id="page" x="608" y="1183" text-anchor="middle" style="font-family:'Open Sans','Noto Sans',sans-serif;font-size:13px">- 15 -</text>
<rect id="rule" x="0" y="1582" width="1220" height="1" fill="#000"/>
</g>
</svg>
